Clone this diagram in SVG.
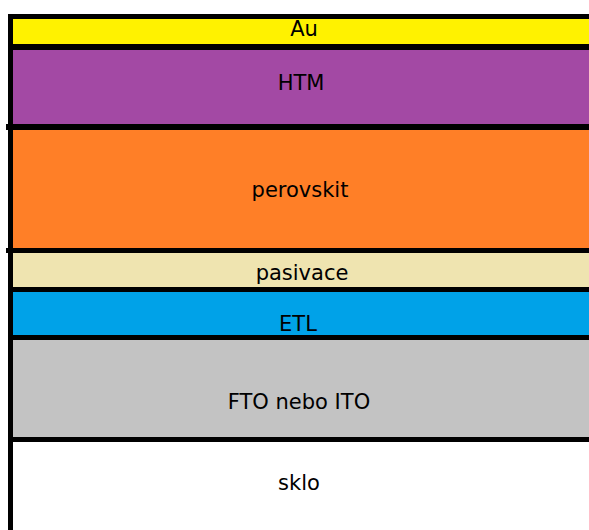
<svg xmlns="http://www.w3.org/2000/svg" width="589" height="530" viewBox="0 0 589 530">
<style>
.ln{fill:#000}
.t{font-family:"DejaVu Sans",sans-serif;font-size:21px;fill:#000;text-anchor:middle}
</style>
<rect width="589" height="530" fill="#fff"/>
<g id="au"><rect x="13" y="19" width="576" height="25" fill="#fff200"/><text class="t" x="304" y="36">Au</text></g>
<g id="htm"><rect x="13" y="50" width="576" height="74" fill="#a349a4"/><text class="t" x="301" y="90">HTM</text></g>
<g id="perovskit"><rect x="13" y="130" width="576" height="118" fill="#ff7f27"/><text class="t" x="300" y="197">perovskit</text></g>
<g id="pasivace"><rect x="13" y="253" width="576" height="34" fill="#efe4b0"/><text class="t" x="302" y="280">pasivace</text></g>
<g id="etl"><rect x="13" y="292" width="576" height="43" fill="#00a2e8"/><text class="t" x="298" y="331">ETL</text></g>
<g id="fto"><rect x="13" y="340" width="576" height="97" fill="#c3c3c3"/><text class="t" x="299" y="409">FTO nebo ITO</text></g>
<g id="sklo"><text class="t" x="299" y="490">sklo</text></g>
<g id="lines">
<rect class="ln" x="8" y="14" width="581" height="5"/>
<rect class="ln" x="8" y="44" width="581" height="6"/>
<rect class="ln" x="6" y="124" width="583" height="6"/>
<rect class="ln" x="6" y="248" width="583" height="5"/>
<rect class="ln" x="8" y="287" width="581" height="5"/>
<rect class="ln" x="8" y="335" width="581" height="5"/>
<rect class="ln" x="8" y="437" width="581" height="5"/>
<rect class="ln" x="8" y="14" width="5" height="516"/>
</g>
</svg>
